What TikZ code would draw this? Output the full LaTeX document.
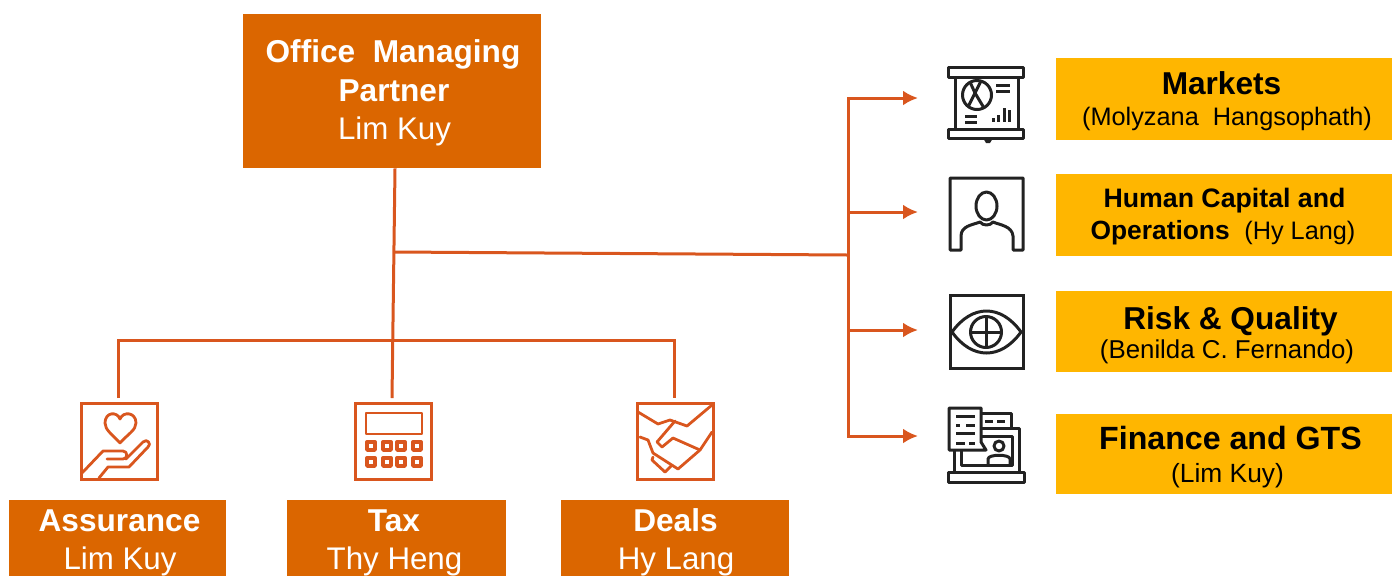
\documentclass[tikz,border=0pt]{standalone}
\usepackage{fontspec}
\setmainfont{Liberation Sans}
\usetikzlibrary{positioning}
\usetikzlibrary{arrows, arrows.meta}
\definecolor{boxorange}{HTML}{DB6600}
\definecolor{boxyellow}{HTML}{FFB600}
\definecolor{lineorange}{HTML}{D9561E}
\definecolor{icondark}{HTML}{222222}
\def\px{0.02cm}
\tikzset{
  headbox/.style={fill=boxorange, inner sep=0pt},
  sidebox/.style={fill=boxyellow, inner sep=0pt, minimum width=336*\px},
  headtxt/.style={text=white, anchor=base, inner sep=0pt, font=\fontsize{18}{21.5}\selectfont\bfseries},
  nametxt/.style={text=white, anchor=base, inner sep=0pt, font=\fontsize{17.8}{21.5}\selectfont},
  sidetxt/.style={text=black, anchor=base, inner sep=0pt, font=\fontsize{18}{21.5}\selectfont\bfseries},
  subtxt/.style={text=black, anchor=base, inner sep=0pt, font=\fontsize{14.4}{17}\selectfont},
  link/.style={draw=lineorange, line width=3*\px},
  linkarrow/.style={link, -{Latex[length=15*\px, width=15*\px]}},
  iconbox/.style={draw=lineorange, line width=3*\px, minimum size=76*\px, inner sep=0pt},
  iconline/.style={draw=lineorange, line width=2.8*\px, line join=round, line cap=round},
  darkbox/.style={draw=icondark, line width=3*\px, minimum size=73*\px, inner sep=0pt},
  darkline/.style={draw=icondark, line width=3*\px, line join=round},
}
\begin{document}
\begin{tikzpicture}[x=0.02cm, y=-0.02cm]
  \useasboundingbox (0,0) rectangle (1392,576);

  % main boxes
  \node[headbox, minimum width=298*\px, minimum height=154*\px] (OMP) at (392,91) {};
  \node[headbox, minimum width=217*\px, minimum height=76*\px] (ASS) at (117.5,538) {};
  \node[headbox, minimum width=219*\px, minimum height=76*\px] (TAX) at (396.5,538) {};
  \node[headbox, minimum width=228*\px, minimum height=76*\px] (DEA) at (675,538) {};

  \node[headtxt] (OMPa) at (393,62) {Office\ \ Managing};
  \node[headtxt] (OMPb) at (394,101) {Partner};
  \node[nametxt] (OMPc) at (394.5,139) {Lim Kuy};
  \node[headtxt] (ASSa) at (119.5,531) {Assurance};
  \node[nametxt] (ASSb) at (120,569) {Lim Kuy};
  \node[headtxt] (TAXa) at (394,531) {Tax};
  \node[nametxt] (TAXb) at (394.5,569) {Thy\ Heng};
  \node[headtxt] (DEAa) at (675.5,531) {Deals};
  \node[nametxt] (DEAb) at (676,569) {Hy Lang};

  % side boxes
  \node[sidebox, minimum height=82*\px] (MKT) at (1224,99) {};
  \node[sidebox, minimum height=82*\px] (HCO) at (1224,215) {};
  \node[sidebox, minimum height=81*\px] (RSK) at (1224,331.5) {};
  \node[sidebox, minimum height=80*\px] (FIN) at (1224,454) {};

  \node[sidetxt] (MKTa) at (1221.5,94) {Markets};
  \node[subtxt] (MKTb) at (1227,125) {(Molyzana\ \ Hangsophath)};
  \node[sidetxt, font=\fontsize{15.2}{18}\selectfont\bfseries] (HCOa) at (1224.5,207) {Human Capital and};
  \node[sidetxt, font=\fontsize{15}{18}\selectfont\bfseries] (HCOb) at (1223,239) {Operations\ \ \mdseries\fontsize{14.4}{18}\selectfont(Hy Lang)};
  \node[sidetxt] (RSKa) at (1230.5,329) {Risk \& Quality};
  \node[subtxt, font=\fontsize{14.7}{17}\selectfont] (RSKb) at (1227,358) {(Benilda\ C.\ Fernando)};
  \node[sidetxt, font=\fontsize{18.3}{21.5}\selectfont\bfseries] (FINa) at (1230.5,449) {Finance and GTS};
  \node[subtxt, font=\fontsize{15}{17}\selectfont] (FINb) at (1227.5,482) {(Lim Kuy)};

  % orange icons
  \node[iconbox] (ASSicon) at (119.5,441) {};
  \node[iconbox] (TAXicon) at (393.5,441) {};
  \node[iconbox] (DEAicon) at (675,441) {};

  % connectors
  \coordinate (TAXtop) at (392,398);
  \coordinate (ASStop) at (118,398);
  \coordinate (DEAtop) at (674,398);
  \coordinate (BUSin) at (395,252);
  \coordinate (BUS) at (848,255);
  \coordinate (BUS1) at (848,98);
  \coordinate (BUS4) at (848,436);
  \coordinate (A1) at (918,98);
  \coordinate (A2) at (918,212);
  \coordinate (A3) at (918,330);
  \coordinate (A4) at (918,436);

  \draw[link] (OMP.south -| BUSin) -- (TAXtop);
  \draw[link] (ASStop) |- (DEAtop |- 0,340) -- (DEAtop);
  \draw[link] (BUSin) -- (BUS);
  \draw[linkarrow] (BUS) -- (BUS1) -- (A1);
  \draw[linkarrow] (BUS) -- (BUS4) -- (A4);
  \draw[linkarrow] (848,212) -- (A2);
  \draw[linkarrow] (848,330) -- (A3);

  % heart and hand
  \draw[iconline] (120,443) .. controls (112,434) and (105,430) .. (105,423)
    .. controls (105,412) and (117,411) .. (120,419)
    .. controls (123,411) and (136,412) .. (136,423)
    .. controls (136,430) and (128,434) .. (120,443);
  \draw[iconline] (82,473) -- (103,451) -- (123,451)
    .. controls (128,451) and (128,459) .. (123,459) -- (107,459);
  \draw[iconline] (126,459) -- (143,442)
    .. controls (147,438) and (152,444) .. (148,447)
    -- (129,467) -- (108,467) -- (99,478);

  % calculator
  \draw[iconline, line cap=butt] (366,413) rectangle (422,434);
  \foreach \kx in {371,387,401,417}
    \foreach \ky in {446,462}
      \draw[iconline, line cap=butt, line width=3.4*\px] (\kx-4,\ky-4) rectangle (\kx+4,\ky+4);

  % handshake
  \draw[iconline] (638,412) -- (658,424) -- (670,420) -- (687,426) -- (712,405);
  \draw[iconline] (640,437) -- (648,440) -- (653,453) -- (678,469) -- (700,450) -- (712,432);
  \draw[iconline] (675,421) -- (657,442) -- (662,447) -- (673,438) -- (700,450);
  \draw[iconline] (653,457) -- (652,460) -- (665,472) -- (672,465);

  % presentation board
  \draw[darkline] (948.5,67) rectangle (1023.5,77);
  \draw[darkline] (948.5,129) rectangle (1023.5,138);
  \draw[darkline] (955,77) -- (955,129);
  \draw[darkline] (1018,77) -- (1018,129);
  \draw[darkline] (977,95) circle[radius=14.5];
  \draw[darkline] (970,82) -- (975,93) -- (984,108);
  \draw[darkline] (981,81) -- (975,93) -- (968,107);
  \draw[darkline] (996,85) -- (1010,85);
  \draw[darkline] (996,91) -- (1010,91);
  \draw[darkline] (965,116) -- (977,116);
  \draw[darkline] (965,122) -- (977,122);
  \foreach \bx/\by in {993/118,998/115,1004/108,1009/110}
    \draw[darkline] (\bx,121.5) -- (\bx,\by);
  \fill[icondark] (983,138) -- (993,138) -- (990,143) -- (986,143) -- cycle;

  % person
  \draw[darkline] (950,250) -- (950,178) -- (1023,178) -- (1023,250) -- (1013,250) -- (1013,236)
    .. controls (1012,226) and (1000,225) .. (993,222)
    .. controls (990,226) and (983,226) .. (980,222)
    .. controls (972,225) and (961,226) .. (961,236)
    -- (961,250) -- cycle;
  \draw[darkline] (986.5,206) ellipse[x radius=10.5, y radius=14];

  % eye
  \node[darkbox] (EYEbox) at (986.5,331.5) {};
  \draw[darkline] (952,332) .. controls (972,304) and (1001,304) .. (1021,332)
    .. controls (1001,360) and (972,360) .. (952,332);
  \draw[darkline] (986,332) circle[radius=15.5];
  \draw[darkline] (970.5,332) -- (1001.5,332);
  \draw[darkline] (986,316.5) -- (986,347.5);

  % document and laptop
  \draw[darkline] (982,413) -- (1011,413) -- (1011,428);
  \draw[darkline] (985,421) -- (993,421);
  \draw[darkline] (997,421) -- (1005,421);
  \draw[darkline] (982,428) -- (1019,428) -- (1019,472);
  \draw[darkline] (982,436) -- (1012,436) -- (1012,465) -- (961,465) -- (961,451);
  \draw[darkline] (954,451) -- (954,472);
  \draw[darkline] (949,408) -- (981,408) -- (981,442) -- (986,450) -- (949,450) -- cycle;
  \draw[darkline] (956,416) -- (975,416);
  \draw[darkline] (956,425) -- (960,425);
  \draw[darkline] (966,425) -- (975,425);
  \draw[darkline] (956,433) -- (975,433);
  \draw[darkline] (956,443) -- (965,443);
  \draw[darkline] (969,443) -- (975,443);
  \draw[darkline] (999,446) circle[radius=5];
  \draw[darkline] (988,465) -- (988,459) .. controls (988,454) and (1010,454) .. (1010,459) -- (1010,465);
  \draw[darkline] (948.5,472.5) rectangle (1024,482);
\end{tikzpicture}
\end{document}
